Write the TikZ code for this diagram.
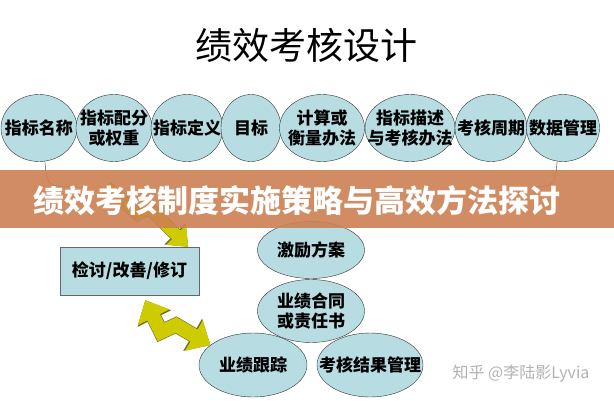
\documentclass[tikz,border=0pt]{standalone}
\usepackage{fontspec}
\setmainfont{Noto Sans CJK SC}
\usetikzlibrary{shapes.geometric,arrows.meta}
\definecolor{elfill}{RGB}{183,221,227}
\definecolor{boltfill}{RGB}{206,204,0}
\definecolor{boltedge}{RGB}{110,110,30}
\definecolor{bannerbg}{RGB}{204,128,82}
\begin{document}
\begin{tikzpicture}[x=1pt, y=-1pt,
                    el/.style={ellipse, draw=black!80, fill=elfill, inner xsep=-15pt, inner ysep=0pt,
                               font=\bfseries\fontsize{17}{20}\selectfont, align=center},
                    box/.style={rectangle, draw=black!60, fill=elfill, minimum width=139pt, minimum height=48pt,
                                font=\bfseries\fontsize{17}{20}\selectfont},
                    bolt/.style={draw=boltfill, line width=12pt, line join=miter},
                    boltline/.style={draw=boltedge, line width=13.2pt, line join=miter},
                    smalltip/.tip={Triangle[length=19pt,width=34pt]},
                    bigtip/.tip={Triangle[length=20.5pt,width=36pt]},
                    toptip/.tip={Triangle[length=17pt,width=27pt]},
                    topedge/.tip={Triangle[length=18.5pt,width=29pt]}
                ]
                \useasboundingbox (0,0) rectangle (614,400);
                \node (title) [font=\fontsize{37}{40}\selectfont] at (306,45) {绩效考核设计};
                % top row
                \node (name)   [el, minimum width=76pt, minimum height=67pt] at (39,128)  {指标名称};
                \node (weight) [el, minimum width=76pt, minimum height=67pt] at (114,128) {指标配分\\或权重};
                \node (defn)   [el, minimum width=72pt, minimum height=67pt] at (187,128) {指标定义};
                \node (goal)   [el, minimum width=60pt, minimum height=67pt] at (251,128) {目标};
                \node (calc)   [el, minimum width=85pt, minimum height=67pt] at (322,128) {计算或\\衡量办法};
                \node (desc)   [el, minimum width=90pt, minimum height=67pt] at (410,128) {指标描述\\与考核办法};
                \node (cycle)  [el, minimum width=72pt, minimum height=67pt] at (491,128) {考核周期};
                \node (data)   [el, minimum width=73pt, minimum height=67pt] at (563,128) {数据管理};
                \coordinate (brl) at (110,187);
                \coordinate (brr) at (490,187);
                \draw[black!80, thin] (name.-80) .. controls (47,186) .. (72,187) -- (brl);
                \draw[black!80, thin] (data.-100) .. controls (555,186) .. (530,187) -- (brr);
                % lower part
                \node (review)    [box] at (129.5,271) {检讨/改善/修订};
                \node (incentive) [el, minimum width=107pt, minimum height=57pt] at (311,250) {激励方案};
                \node (contract)  [el, minimum width=107pt, minimum height=63pt] at (311,311) {业绩合同\\或责任书};
                \node (tracking)  [el, minimum width=108pt, minimum height=64pt] at (253,365) {业绩跟踪};
                \node (result)    [el, minimum width=106pt, minimum height=64pt] at (370,365) {考核结果管理};
                \coordinate (boltin) at (106,187);
                \draw[boltline, -topedge] (boltin) -- (138,214) -- (149,208) -- ([xshift=-11pt]review.north east);
                \draw[bolt, -toptip] (boltin) -- (138,214) -- (149,208) -- ([xshift=-11pt]review.north east);
                \draw[boltline, line width=15.2pt, bigtip-bigtip] ([xshift=-54pt,yshift=-5pt]review.south east) -- (161,332) -- (176,325) -- (tracking.155);
                \draw[bolt, line width=14pt, smalltip-smalltip] ([xshift=-54pt,yshift=-5pt]review.south east) -- (161,332) -- (176,325) -- (tracking.155);
                % banner
                \node (banner) [rectangle, fill=bannerbg, fill opacity=0.9, minimum width=614pt, minimum height=58pt,
                                inner sep=0pt] at (307,199) {};
                \node (headline) [text=white, font=\bfseries\fontsize{31}{34}\selectfont] at (297,201)
                    {绩效考核制度实施策略与高效方法探讨};
                \node (mark) [text=black!30, font=\fontsize{16}{18}\selectfont] at (521,374) {知乎 @李陆影Lyvia};
                \end{tikzpicture}
\end{document}
